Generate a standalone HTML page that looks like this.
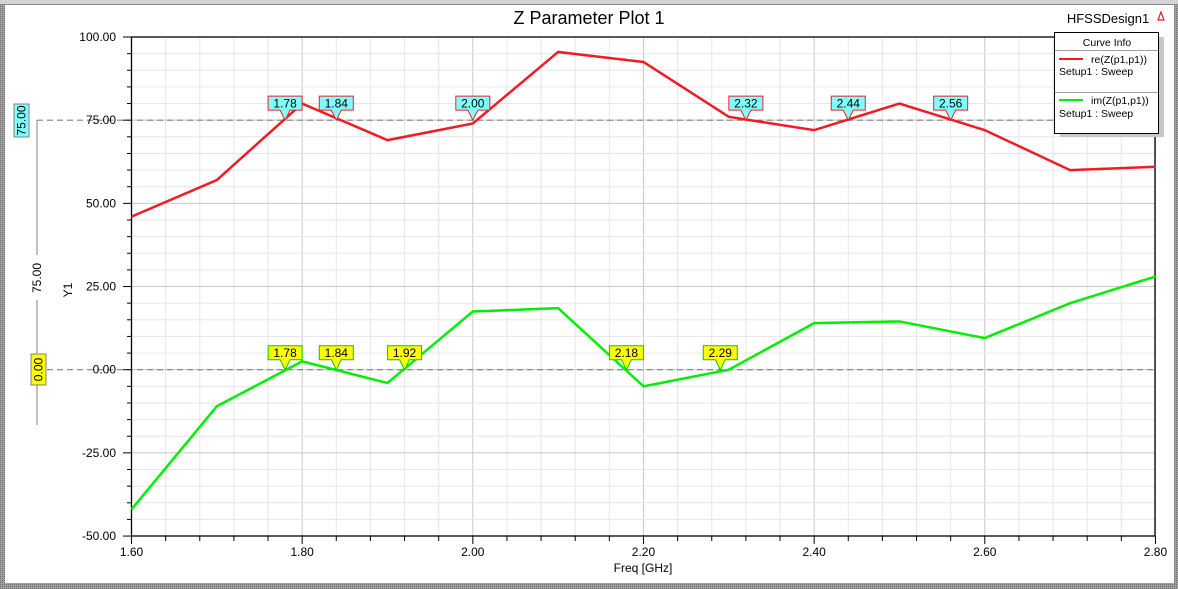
<!DOCTYPE html>
<html><head><meta charset="utf-8"><style>
body{margin:0;width:1178px;height:589px;overflow:hidden;background:#fff;font-family:"Liberation Sans",Arial,sans-serif}
svg{display:block}
</style></head><body>
<svg id="s" width="1178" height="589" xmlns="http://www.w3.org/2000/svg" font-family="Liberation Sans, Arial, sans-serif">
<defs><pattern id="dots" width="2" height="2" patternUnits="userSpaceOnUse"><rect width="2" height="2" fill="#a0a0a0"/><rect width="1" height="1" fill="#707070"/></pattern></defs>
<rect x="0" y="0" width="1178" height="589" fill="url(#dots)"/>
<rect x="0" y="0" width="1178" height="4" fill="#d4d4d4"/>
<rect x="5" y="5" width="1169" height="578" fill="#fff"/>
<g id="g"></g>
</svg>
<script>
const NS="http://www.w3.org/2000/svg",g=document.getElementById('g');
function el(t,a,txt){const e=document.createElementNS(NS,t);for(const k in a)e.setAttribute(k,a[k]);if(txt!=null)e.textContent=txt;g.appendChild(e);return e;}
const X=f=>131.5+(f-1.6)*853.3, Y=v=>37+(100-v)*3.327;
for(let i=0;i<=30;i++){const f=1.6+i*0.04,x=X(f);el('line',{x1:x,y1:37,x2:x,y2:536,stroke:i%5==0?'#c8c8c8':'#e6e6e6','stroke-width':1});}
for(let i=0;i<=30;i++){const v=100-i*5,y=Y(v);el('line',{x1:131.5,y1:y,x2:1155,y2:y,stroke:i%5==0?'#c8c8c8':'#e6e6e6','stroke-width':1});}
[75,0].forEach(v=>el('line',{x1:37,y1:Y(v),x2:1155,y2:Y(v),stroke:'#808080','stroke-width':1.2,'stroke-dasharray':'6,4'}));
el('rect',{x:131.5,y:37,width:1023.5,height:499,fill:'none',stroke:'#000','stroke-width':1.3});
for(let i=0;i<=30;i++){const v=100-i*5,y=Y(v);el('line',{x1:i%5==0?123:127,y1:y,x2:131.5,y2:y,stroke:'#000'});}
for(let i=0;i<=30;i++){const x=X(1.6+i*0.04);el('line',{x1:x,y1:536,x2:x,y2:i%5==0?544:541,stroke:'#000'});}
for(let i=0;i<=6;i++){const v=100-i*25;el('text',{x:116,y:Y(v)+4,'font-size':12,'text-anchor':'end',fill:'#000'},v.toFixed(2));}
for(let i=0;i<=6;i++){const f=1.6+i*0.2;el('text',{x:X(f),y:556,'font-size':12,'text-anchor':'middle'},f.toFixed(2));}
el('text',{x:643,y:572,'font-size':12,'text-anchor':'middle'},'Freq [GHz]');
el('text',{x:589,y:24,'font-size':18,'text-anchor':'middle'},'Z Parameter Plot 1');
el('text',{x:1108,y:23,'font-size':13,'text-anchor':'middle'},'HFSSDesign1');
el('path',{d:'M1158 20 L1161 12 L1164 20 Z',fill:'none',stroke:'#e02020','stroke-width':1.2});
el('text',{x:72,y:290,'font-size':12,'text-anchor':'middle',transform:'rotate(-90 72 290)'},'Y1');
el('line',{x1:37,y1:120,x2:37,y2:255,stroke:'#808080'});
el('line',{x1:37,y1:300,x2:37,y2:425,stroke:'#808080'});
el('text',{x:41,y:278,'font-size':12,'text-anchor':'middle',transform:'rotate(-90 41 278)'},'75.00');
el('rect',{x:14,y:104,width:15,height:33,fill:'#80ffff',stroke:'#808080'});
el('text',{x:25.5,y:120.5,'font-size':12,'text-anchor':'middle',transform:'rotate(-90 25.5 120.5)'},'75.00');
el('rect',{x:31,y:354,width:15,height:31,fill:'#ffff00',stroke:'#808080'});
el('text',{x:42.5,y:369.5,'font-size':12,'text-anchor':'middle',transform:'rotate(-90 42.5 369.5)'},'0.00');
const fs=[1.6,1.7,1.8,1.9,2.0,2.1,2.2,2.3,2.4,2.5,2.6,2.7,2.8];
const red=[46,57,80,69,74,95.5,92.5,76,72,80,72,60,61];
const grn=[-42,-11,2.5,-4,17.5,18.5,-5,0,14,14.5,9.5,20,28];
el('polyline',{points:fs.map((f,i)=>X(f)+','+Y(red[i])).join(' '),fill:'none',stroke:'#ee1c24','stroke-width':2.5});
el('polyline',{points:fs.map((f,i)=>X(f)+','+Y(grn[i])).join(' '),fill:'none',stroke:'#00ee00','stroke-width':2.5});
function mk(f,v,fill,stroke){const x=X(f),y=Y(v),w=34,h=14,top=y-24;
el('path',{d:`M${x-w/2} ${top} H${x+w/2} V${top+h} H${x+5} L${x} ${y} L${x-5} ${top+h} H${x-w/2} Z`,fill:fill,stroke:stroke,'stroke-width':1});
el('text',{x:x,y:top+11.5,'font-size':12,'text-anchor':'middle'},f.toFixed(2));}
[1.78,1.84,2.00,2.32,2.44,2.56].forEach(f=>mk(f,75,'#80ffff','#ee1c24'));
[1.78,1.84,1.92,2.18,2.29].forEach(f=>mk(f,0,'#ffff00','#00cc00'));
el('rect',{x:1060,y:37,width:104,height:100,fill:'#c8c8c8'});
el('rect',{x:1054.5,y:32.5,width:104,height:101,fill:'#fff',stroke:'#000'});
el('text',{x:1107,y:46,'font-size':10.5,'text-anchor':'middle'},'Curve Info');
el('line',{x1:1055,y1:50.5,x2:1158,y2:50.5,stroke:'#a0a0a0'});
el('line',{x1:1055,y1:92.5,x2:1158,y2:92.5,stroke:'#a0a0a0'});
el('line',{x1:1059,y1:59,x2:1083,y2:59,stroke:'#ee1c24','stroke-width':2});
el('text',{x:1091,y:63,'font-size':10.5},'re(Z(p1,p1))');
el('text',{x:1059,y:75,'font-size':10.5},'Setup1 : Sweep');
el('line',{x1:1059,y1:100,x2:1083,y2:100,stroke:'#00ee00','stroke-width':2});
el('text',{x:1091,y:104,'font-size':10.5},'im(Z(p1,p1))');
el('text',{x:1059,y:117,'font-size':10.5},'Setup1 : Sweep');
</script>
</body></html>
